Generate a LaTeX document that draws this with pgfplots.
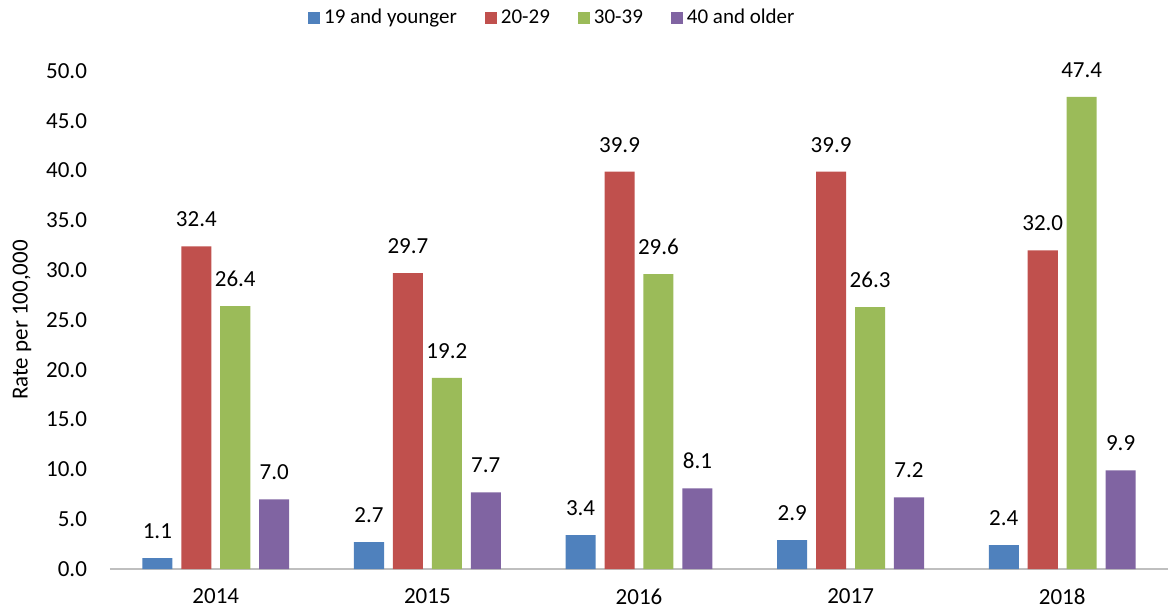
\documentclass[border=0pt]{standalone}
\usepackage{fontspec}
\setmainfont{Carlito}
\usepackage{pgfplots}
\pgfplotsset{compat=1.18}
\definecolor{cblue}{HTML}{4F81BD}
\definecolor{cred}{HTML}{C0504D}
\definecolor{cgreen}{HTML}{9BBB59}
\definecolor{cpurple}{HTML}{8064A2}
\pgfplotsset{
  sq legend/.style={legend image code/.code={\fill[##1] (0pt,-3pt) rectangle (6pt,3pt);}},
}
\newcommand{\lbl}{\fontsize{11.5}{14}\selectfont}
\begin{document}
\begin{tikzpicture}
\begin{axis}[
    at={(0,0)}, anchor=south west,
    scale only axis,
    width=529pt, height=249pt,
    ybar,
    xmin=-0.5, xmax=4.5,
    ymin=0, ymax=50,
    ytick={0,5,...,50},
    xtick={0,1,2,3,4},
    xticklabels={2014,2015,2016,2017,2018},
    axis lines*=left,
    axis line style={-},
    y axis line style={draw=none},
    x axis line style={draw=black!25, line width=0.8pt},
    major tick length=0pt,
    tick style={draw=none},
    yticklabel style={font=\lbl, xshift=-8pt,
      /pgf/number format/fixed, /pgf/number format/fixed zerofill,
      /pgf/number format/precision=1, /pgf/number format/assume math mode=true},
    xticklabel style={font=\lbl, yshift=-6.5pt},
    ylabel={Rate per 100,000},
    ylabel style={font=\lbl, at={(axis description cs:-0.0832,0.5)}, anchor=center},
    nodes near coords,
    nodes near coords style={font=\lbl, anchor=south, inner sep=0pt, yshift=9.5pt,
      /pgf/number format/fixed, /pgf/number format/fixed zerofill,
      /pgf/number format/precision=1, /pgf/number format/assume math mode=true},
    legend columns=4,
    legend style={draw=none, font=\fontsize{10.5}{13}\selectfont, at={(0.419,1)}, anchor=center, yshift=26.5pt,
      /tikz/every even column/.append style={column sep=12pt}},
    legend cell align=left,
]
\addplot[fill=cblue, draw=none, bar width=0.142, bar shift=-0.276, sq legend] coordinates {
    (0,1.1) (1,2.7) (2,3.4) (3,2.9) (4,2.4)
};
\addplot[fill=cred, draw=none, bar width=0.142, bar shift=-0.092, sq legend] coordinates {
    (0,32.4) (1,29.7) (2,39.9) (3,39.9) (4,32.0)
};
\addplot[fill=cgreen, draw=none, bar width=0.142, bar shift=0.092, sq legend] coordinates {
    (0,26.4) (1,19.2) (2,29.6) (3,26.3) (4,47.4)
};
\addplot[fill=cpurple, draw=none, bar width=0.142, bar shift=0.276, sq legend] coordinates {
    (0,7.0) (1,7.7) (2,8.1) (3,7.2) (4,9.9)
};
\legend{19 and younger,20-29,30-39,40 and older}
\end{axis}
\pgfresetboundingbox
\path[use as bounding box] (-55pt,-21pt) rectangle (529pt,284.5pt);
\end{tikzpicture}
\end{document}
